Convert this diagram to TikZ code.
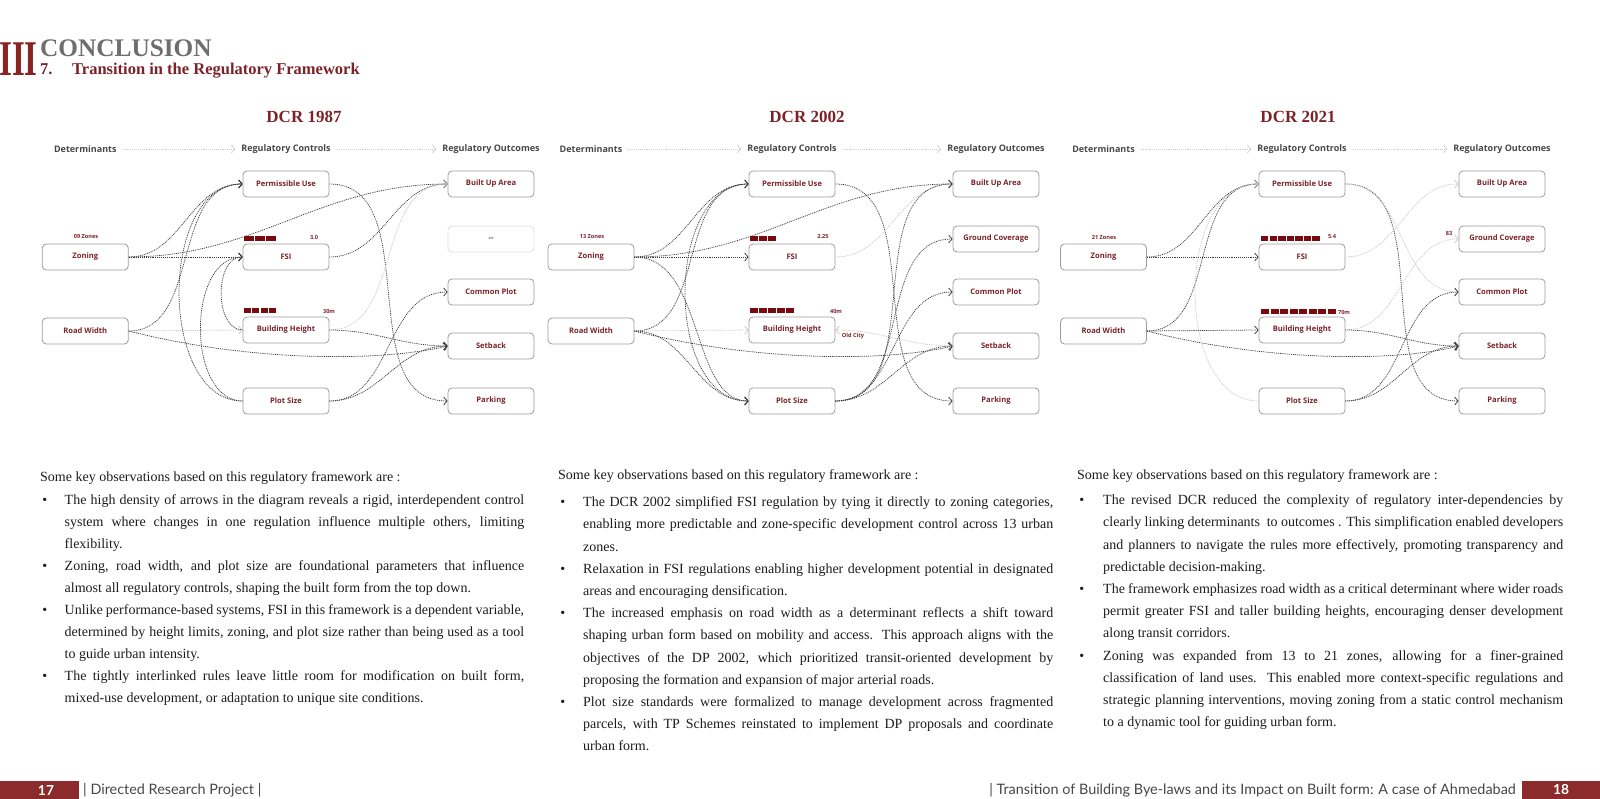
\documentclass[tikz,border=0pt]{standalone}
\usepackage{fontspec}
\setmainfont{Liberation Serif}
\newfontfamily\diag{Open Sans}
\newfontfamily\footfont{Lato}
\usepackage{xcolor}
\usepackage{tikz}
\usetikzlibrary{arrows.meta}
\definecolor{labred}{HTML}{7B2328}
\definecolor{barred}{HTML}{7A0A0F}
\definecolor{hdred}{HTML}{8A2424}
\definecolor{hdgray}{HTML}{6E6E6E}
\definecolor{headgray}{HTML}{474747}
\definecolor{boxgray}{HTML}{9C9C9C}
\definecolor{linkgray}{HTML}{3C3C3C}
\definecolor{faintgray}{HTML}{C9C9C9}
\definecolor{bodyink}{HTML}{1C1C1C}
\definecolor{footred}{HTML}{8B2B2B}
\tikzset{
  box/.style={draw=boxgray, line width=0.8pt, rounded corners=4pt, fill=white,
    minimum width=86pt, minimum height=26pt, inner sep=0pt, text=labred,
    font=\diag\bfseries\fontsize{7.6}{9}\selectfont},
  ghost/.style={box, draw=faintgray, dash pattern=on 1pt off 1pt, text=headgray},
  link/.style={draw=linkgray, line width=0.75pt, dash pattern=on 1pt off 0.9pt,
    -{Straight Barb[length=3.5pt,width=8pt]}},
  faint/.style={link, draw=faintgray},
  flow/.style={faint, line width=0.6pt},
  head/.style={font=\diag\bfseries\fontsize{9}{11}\selectfont, text=headgray, inner xsep=6pt},
  title/.style={font=\bfseries\fontsize{17}{19}\selectfont, text=labred},
  tag/.style={font=\diag\bfseries\fontsize{5.6}{7}\selectfont, text=labred, inner sep=0pt},
  foot/.style={inner sep=0pt, text=headgray, font=\footfont\fontsize{14.4}{15}\selectfont},
  pageno/.style={text=white, font=\footfont\bfseries\fontsize{13.8}{15}\selectfont},
  body/.style={anchor=north west, inner sep=0pt, align=justify, text=bodyink,
    font=\fontsize{14}{21.95}\selectfont,
    execute at begin node={\setlength{\parindent}{0pt}\hyphenpenalty=10000\exhyphenpenalty=10000\tolerance=9999}}
}
% one panel: prefix, year, x of the three columns
\newcommand{\Panel}[5]{%
  \node[head] (#1-hd) at (#3,149) {Determinants};
  \node[head] (#1-hc) at (#4,149) {Regulatory Controls};
  \node[head] (#1-ho) at (#5,149) {Regulatory Outcomes};
  \draw[flow] (#1-hd) -- (#1-hc);
  \draw[flow] (#1-hc) -- (#1-ho);
  \node[box] (#1-zon) at (#3,257) {Zoning};
  \node[box] (#1-rw) at (#3,331) {Road Width};
  \node[box] (#1-pu) at (#4,184) {Permissible Use};
  \node[box] (#1-fsi) at (#4,257) {FSI};
  \node[box] (#1-bh) at (#4,330) {Building Height};
  \node[box] (#1-ps) at (#4,401) {Plot Size};
  \node[box] (#1-bu) at (#5,184) {Built Up Area};
  \node[box] (#1-cp) at (#5,292) {Common Plot};
  \node[box] (#1-sb) at (#5,346) {Setback};
  \node[box] (#1-pk) at (#5,401) {Parking};
}
\newcommand{\RedBar}[4]{% x, top, segments, length
  \pgfmathsetmacro{\seglen}{#4/#3}
  \foreach \k in {1,...,#3}{
    \fill[barred] ({#1+(\k-1)*\seglen},#2) rectangle ++({\seglen-1.2},5);
  }
}
% bullet list: left margin, space above
\newenvironment{obslist}[2]{\begin{list}{\textbullet}{\setlength{\leftmargin}{#1}%
  \setlength{\labelwidth}{7pt}\setlength{\labelsep}{\dimexpr#1-7pt\relax}%
  \setlength{\itemsep}{0pt}\setlength{\parsep}{0pt}\setlength{\topsep}{#2}%
  \setlength{\partopsep}{0pt}}}{\end{list}}

\begin{document}
\begin{tikzpicture}[x=1pt,y=-1pt]
\useasboundingbox (0,0) rectangle (1600,799);

% header
\node[anchor=base west, inner sep=0pt, text=hdred, font=\bfseries\fontsize{50}{50}\selectfont] (sec) at (-1,76) {\scalebox{0.66}[1]{III}};
\node[anchor=base west, inner sep=0pt, text=hdgray, font=\bfseries\fontsize{25.3}{27}\selectfont] (concl) at (40,56.5) {CONCLUSION};
\node[anchor=base west, inner sep=0pt, text=labred, font=\bfseries\fontsize{16.5}{18}\selectfont] (num) at (40,74.5) {7.};
\node[anchor=base west, inner sep=0pt, text=labred, font=\bfseries\fontsize{16.5}{18}\selectfont] (sub) at (72,74.5) {Transition in the Regulatory Framework};

% DCR 1987
\node[title] (a-title) at (304,117) {DCR 1987};
\Panel{a}{1987}{85.3}{286}{491}
\node[ghost] (a-gc) at (491,239) {--};
\RedBar{244}{236}{3}{33}
\RedBar{244}{308}{4}{33}
\node[tag] (a-zt) at (86,236) {09 Zones};
\node[tag] (a-fv) at (314,238) {3.0};
\node[tag] (a-hv) at (329,311) {30m};
\draw[link] (a-zon.east) to[out=0,in=180] (a-pu.west);
\draw[link] (a-zon.east) -- (a-fsi.west);
\draw[link] (a-zon.east) to[out=0,in=180] (a-bu.west);
\draw[link] (a-rw.east) to[out=0,in=180] (a-pu.west);
\draw[faint] (a-rw.east) -- (a-bh.west);
\draw[link] (a-rw.east) .. controls (250,362) and (380,362) .. (a-sb.west);
\draw[link] (a-ps.west) to[out=180,in=180] (a-pu.west);
\draw[link] (a-ps.west) to[out=180,in=180] (a-fsi.west);
\draw[link] (a-bh.west) to[out=180,in=180] (a-fsi.west);
\draw[link] (a-pu.east) to[out=0,in=180] (a-pk.west);
\draw[link] (a-fsi.east) to[out=0,in=180] (a-bu.west);
\draw[faint] (a-bh.east) to[out=0,in=180] (a-bu.west);
\draw[link] (a-bh.east) to[out=0,in=180] (a-sb.west);
\draw[link] (a-ps.east) to[out=0,in=180] (a-cp.west);
\draw[link] (a-ps.east) to[out=0,in=180] (a-sb.west);

% DCR 2002
\node[title] (b-title) at (807,117) {DCR 2002};
\Panel{b}{2002}{591}{792}{996}
\node[box] (b-gc) at (996,239) {Ground Coverage};
\RedBar{750}{236}{3}{27}
\RedBar{750}{308}{5}{45}
\node[tag] (b-zt) at (592,237) {13 Zones};
\node[tag] (b-fv) at (823,237) {2.25};
\node[tag] (b-hv) at (836,311) {40m};
\node[tag] (b-oc) at (853,336) {Old City};
\draw[link] (b-zon.east) to[out=0,in=180] (b-pu.west);
\draw[link] (b-zon.east) -- (b-fsi.west);
\draw[link] (b-zon.east) to[out=0,in=180] (b-bu.west);
\draw[link] (b-zon.east) .. controls (705,257) and (690,401) .. (b-ps.west);
\draw[link] (b-rw.east) to[out=0,in=180] (b-pu.west);
\draw[faint] (b-rw.east) -- (b-bh.west);
\draw[link] (b-rw.east) .. controls (756,362) and (886,362) .. (b-sb.west);
\draw[link] (b-rw.east) to[out=0,in=180] (b-ps.west);
\draw[link] (b-pu.west) to[out=180,in=180] (b-ps.west);
\draw[faint] (b-sb.west) to[out=180,in=0] (b-bh.east);
\draw[link] (b-pu.east) to[out=0,in=180] (b-pk.west);
\draw[faint] (b-fsi.east) to[out=0,in=180] (b-bu.west);
\draw[link] (b-ps.east) to[out=0,in=180] (b-bu.west);
\draw[link] (b-ps.east) to[out=0,in=180] (b-gc.west);
\draw[link] (b-ps.east) to[out=0,in=180] (b-cp.west);
\draw[link] (b-ps.east) to[out=0,in=180] (b-sb.west);

% DCR 2021
\node[title] (c-title) at (1298,117) {DCR 2021};
\Panel{c}{2021}{1103.5}{1302}{1502}
\node[box] (c-gc) at (1502,239) {Ground Coverage};
\RedBar{1261}{236}{7}{60}
\RedBar{1261}{309}{8}{76}
\node[tag] (c-zt) at (1104,238) {21 Zones};
\node[tag] (c-fv) at (1332,237) {5.4};
\node[tag] (c-hv) at (1344,312) {70m};
\node[tag] (c-gv) at (1449,234) {83};
\draw[link] (c-zon.east) to[out=0,in=180] (c-pu.west);
\draw[link] (c-zon.east) -- (c-fsi.west);
\draw[link] (c-rw.east) to[out=0,in=180] (c-pu.west);
\draw[link] (c-rw.east) -- (c-bh.west);
\draw[link] (c-rw.east) .. controls (1267,362) and (1397,362) .. (c-sb.west);
\draw[faint] (c-ps.west) to[out=180,in=180] (c-pu.west);
\draw[link] (c-pu.east) to[out=0,in=180] (c-pk.west);
\draw[faint] (c-pu.east) to[out=0,in=180] (c-cp.west);
\draw[faint] (c-fsi.east) to[out=0,in=180] (c-bu.west);
\draw[faint] (c-bh.east) to[out=0,in=180] (c-gc.west);
\draw[link] (c-bh.east) to[out=0,in=180] (c-sb.west);
\draw[link] (c-ps.east) to[out=0,in=180] (c-cp.west);
\draw[link] (c-ps.east) to[out=0,in=180] (c-sb.west);

% observations
\node[body, text width=484pt] (obs-a) at (40,471) {Some key observations based on this regulatory framework are :
\begin{obslist}{24.5pt}{1.5pt}
\item The high density of arrows in the diagram reveals a rigid, interdependent control\linebreak system where changes in one regulation influence multiple others, limiting\linebreak flexibility.
\item Zoning, road width, and plot size are foundational parameters that influence\linebreak almost all regulatory controls, shaping the built form from the top down.
\item Unlike performance-based systems, FSI in this framework is a dependent variable,\linebreak determined by height limits, zoning, and plot size rather than being used as a tool\linebreak to guide urban intensity.
\item The tightly interlinked rules leave little room for modification on built form,\linebreak mixed-use development, or adaptation to unique site conditions.
\end{obslist}};
\node[body, text width=495pt, font=\fontsize{14}{22.2}\selectfont] (obs-b) at (558,469) {Some key observations based on this regulatory framework are :
\begin{obslist}{25pt}{5.5pt}
\item The DCR 2002 simplified FSI regulation by tying it directly to zoning categories,\linebreak enabling more predictable and zone-specific development control across 13 urban\linebreak zones.
\item Relaxation in FSI regulations enabling higher development potential in designated\linebreak areas and encouraging densification.
\item The increased emphasis on road width as a determinant reflects a shift toward\linebreak shaping urban form based on mobility and access. This approach aligns with the\linebreak objectives of the DP 2002, which prioritized transit-oriented development by\linebreak proposing the formation and expansion of major arterial roads.
\item Plot size standards were formalized to manage development across fragmented\linebreak parcels, with TP Schemes reinstated to implement DP proposals and coordinate\linebreak urban form.
\end{obslist}};
\node[body, text width=486pt, font=\fontsize{14}{22.2}\selectfont] (obs-c) at (1077,469) {Some key observations based on this regulatory framework are :
\begin{obslist}{26pt}{3.5pt}
\item The revised DCR reduced the complexity of regulatory inter-dependencies by\linebreak clearly linking determinants \ to outcomes . This simplification enabled developers\linebreak and planners to navigate the rules more effectively, promoting transparency and\linebreak predictable decision-making.
\item The framework emphasizes road width as a critical determinant where wider roads\linebreak permit greater FSI and taller building heights, encouraging denser development\linebreak along transit corridors.
\item Zoning was expanded from 13 to 21 zones, allowing for a finer-grained\linebreak classification of land uses. This enabled more context-specific regulations and\linebreak strategic planning interventions, moving zoning from a static control mechanism\linebreak to a dynamic tool for guiding urban form.
\end{obslist}};

% footer
\fill[footred] (0,781) rectangle (79,799);
\node[pageno] (pg-l) at (46,790) {17};
\node[foot, anchor=west] (ft-l) at (83,790) {| Directed Research Project |};
\fill[footred] (1522,781) rectangle (1600,799);
\node[pageno] (pg-r) at (1561,790) {18};
\node[foot, anchor=east] (ft-r) at (1516,790) {| Transition of Building Bye-laws and its Impact on Built form: A case of Ahmedabad};
\end{tikzpicture}
\end{document}
